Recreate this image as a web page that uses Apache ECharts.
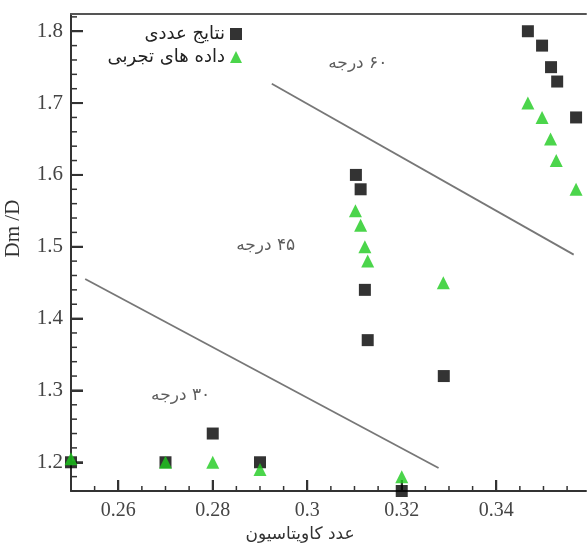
<!DOCTYPE html>
<html>
<head>
<meta charset="utf-8">
<script src="https://cdn.jsdelivr.net/npm/echarts@6/dist/echarts.min.js"></script>
<style>html,body{margin:0;padding:0;background:#fff}#c{width:587px;height:547px}</style>
</head>
<body>
<div id="c"></div>
<script>
// Numerical results (black squares)
const numX = [0.25, 0.27, 0.28, 0.29, 0.3103, 0.3113, 0.3122, 0.3128, 0.32, 0.3289, 0.3467, 0.3497, 0.3516, 0.3529, 0.3569];
const numY = [1.20, 1.20, 1.24, 1.20, 1.60, 1.58, 1.44, 1.37, 1.16, 1.32, 1.80, 1.78, 1.75, 1.73, 1.68];
// Experimental data (green triangles)
const expX = [0.25, 0.27, 0.28, 0.29, 0.3102, 0.3113, 0.3122, 0.3128, 0.32, 0.3288, 0.3467, 0.3497, 0.3515, 0.3527, 0.3569];
const expY = [1.205, 1.20, 1.20, 1.19, 1.55, 1.53, 1.50, 1.48, 1.18, 1.45, 1.70, 1.68, 1.65, 1.62, 1.58];
// Separating lines
const line1X = [0.253, 0.3278];
const line1Y = [1.455, 1.192];
const line2X = [0.2925, 0.3564];
const line2Y = [1.727, 1.489];
// Region annotations
const noteText = ['\u202B۳۰ درجه\u202C', '\u202B۴۵ درجه\u202C', '\u202B۶۰ درجه\u202C'];
const noteX = [0.2732, 0.2912, 0.3107];
const noteY = [1.293, 1.501, 1.7556];
// Axis ticks
const xMajor = [0.26, 0.28, 0.3, 0.32, 0.34];
const xMinor = [0.255, 0.265, 0.27, 0.275, 0.285, 0.29, 0.295, 0.305, 0.31, 0.315, 0.325, 0.33, 0.335, 0.345, 0.35, 0.355];
const yMajor = [1.2, 1.3, 1.4, 1.5, 1.6, 1.7, 1.8];
const yMinor = [1.16, 1.18, 1.22, 1.24, 1.26, 1.28, 1.32, 1.34, 1.36, 1.38, 1.42, 1.44, 1.46, 1.48, 1.52, 1.54, 1.56, 1.58, 1.62, 1.64, 1.66, 1.68, 1.72, 1.74, 1.76, 1.78, 1.82];
const names = ['نتایج عددی', 'داده های تجربی'];

const zip = (a, b) => a.map((v, i) => [v, b[i]]);
const serif = 'Liberation Serif';
const arab = 'DejaVu Sans';
const X0 = 0.25, X1 = 0.359, Y0 = 1.16, Y1 = 1.824;

// tick marks drawn through the axis scales
function tickSeries(data, dx, dy, w) {
  return {
    type: 'custom', silent: true, z: 2, clip: false,
    data: data,
    renderItem: (params, api) => {
      const p = api.coord([api.value(0), api.value(1)]);
      return {type: 'line', shape: {x1: p[0], y1: p[1], x2: p[0] + dx, y2: p[1] + dy},
              style: {stroke: '#333', lineWidth: w}};
    }
  };
}

const chart = echarts.init(document.getElementById('c'), null, {renderer: 'canvas'});
chart.setOption({
  animation: false,
  backgroundColor: '#fff',
  grid: {left: 71, top: 14, width: 515, height: 477, show: false, outerBoundsMode: 'none', containLabel: false},
  legend: {
    orient: 'vertical', align: 'right', right: 340, top: 20,
    itemWidth: 12, itemHeight: 12, itemGap: 5,
    data: names,
    textStyle: {fontFamily: arab, fontSize: 18, color: '#222'}
  },
  xAxis: [{
    type: 'value', min: X0, max: X1, position: 'bottom',
    axisLine: {show: true, onZero: false, lineStyle: {color: '#333', width: 2}},
    axisTick: {show: true, inside: true, length: 11, customValues: xMajor, lineStyle: {color: '#333', width: 2}},
    axisLabel: {customValues: xMajor, margin: 10, fontFamily: serif, fontSize: 20, color: '#444'},
    splitLine: {show: false},
    name: 'عدد کاویتاسیون', nameLocation: 'middle', nameGap: 32,
    nameTextStyle: {fontFamily: arab, fontSize: 17, color: '#333', padding: [0, 57, 0, 0]}
  }, {
    type: 'value', min: X0, max: X1, position: 'top',
    axisLine: {show: true, onZero: false, lineStyle: {color: '#555', width: 2}},
    axisTick: {show: false}, axisLabel: {show: false}, splitLine: {show: false}
  }],
  yAxis: [{
    type: 'value', min: Y0, max: Y1,
    axisLine: {show: true, onZero: false, lineStyle: {color: '#333', width: 2}},
    axisTick: {show: true, inside: true, length: 12, customValues: yMajor, lineStyle: {color: '#333', width: 2}},
    axisLabel: {customValues: yMajor, margin: 8, fontFamily: serif, fontSize: 21, color: '#444'},
    splitLine: {show: false},
    name: 'Dm /D', nameLocation: 'middle', nameGap: 47, nameRotate: 90,
    nameTextStyle: {fontFamily: serif, fontSize: 21, color: '#333', padding: [0, 0, 0, 48]}
  }],
  series: [
    tickSeries(xMajor.map(v => [v, Y0]), 0, -11, 2),
    tickSeries(xMinor.map(v => [v, Y0]), 0, -5, 1.5),
    tickSeries(yMajor.map(v => [X0, v]), 12, 0, 2),
    tickSeries(yMinor.map(v => [X0, v]), 6, 0, 1.5),
    {type: 'line', data: zip(line1X, line1Y), symbol: 'none', lineStyle: {color: '#777', width: 1.8}, silent: true, z: 1},
    {type: 'line', data: zip(line2X, line2Y), symbol: 'none', lineStyle: {color: '#777', width: 1.8}, silent: true, z: 1},
    {name: names[0], type: 'scatter', data: zip(numX, numY), symbol: 'rect', symbolSize: 12, itemStyle: {color: '#000'}, z: 3},
    {name: names[1], type: 'scatter', data: zip(expX, expY), symbol: 'triangle', symbolSize: 13, itemStyle: {color: '#1ecb1e'}, z: 4},
    {type: 'scatter', data: zip(noteX, noteY), symbolSize: 0, silent: true, z: 5,
      label: {show: true, position: 'inside', formatter: p => noteText[p.dataIndex], fontFamily: arab, fontSize: 17, color: '#333'}}
  ]
});
</script>
</body>
</html>
